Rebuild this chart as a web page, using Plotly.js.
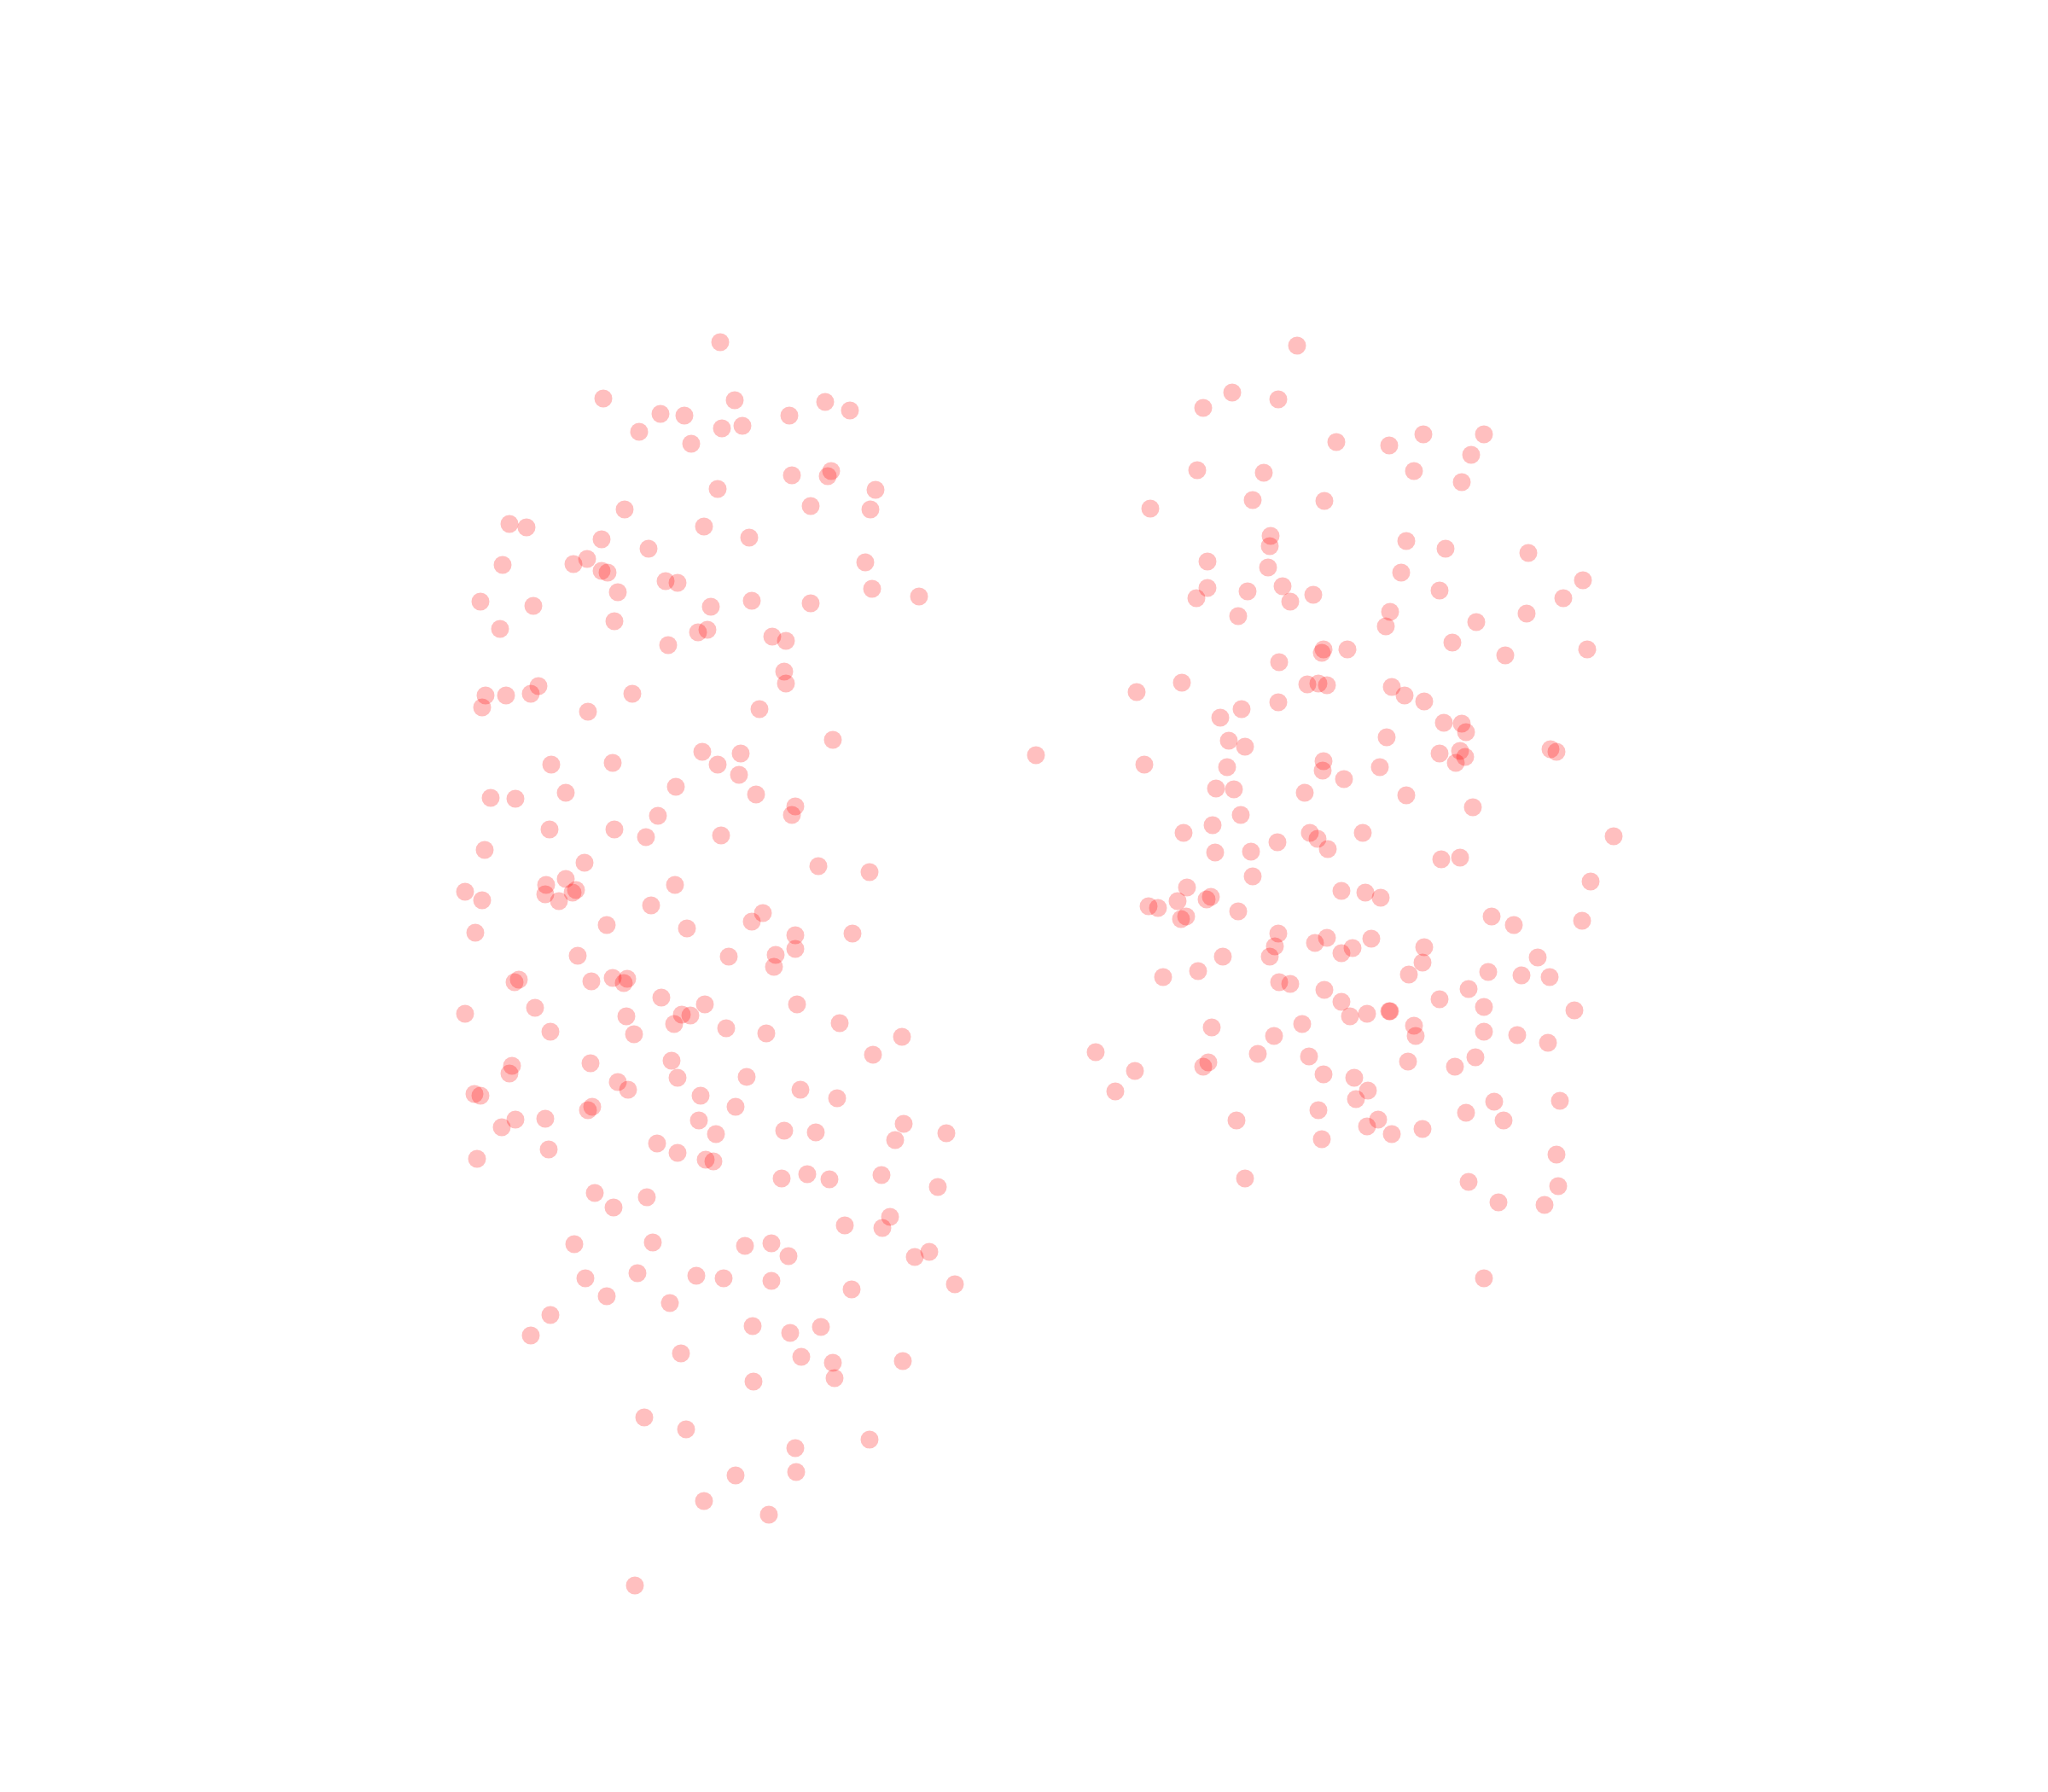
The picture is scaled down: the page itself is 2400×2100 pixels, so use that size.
<!DOCTYPE html>
<html>
<head>
<meta charset="utf-8">
<script src="https://cdn.plot.ly/plotly-3.0.1.min.js"></script>
<style>html,body{margin:0;padding:0;background:#fff;}#chart{width:2400px;height:2100px;}</style>
</head>
<body>
<div id="chart"></div>
<script>
// Group A (left cluster): x and y values
const groupA_x = [844,707,861,774,802,925,967,996,749,846,870,810,928,974,970,841,1026,950,1020,732,597,617,825,705,878,760,589,672,688,705,712,1014,780,794,724,1022,1077,563,625,833,881,950,586,720,818,829,905,921,783,919,921,569,593,622,631,565,741,689,890,976,
823,868,841,866,646,718,575,604,663,792,886,932,928,771,644,720,757,845,568,685,959,1019,640,663,675,671,639,655,791,545,565,763,711,805,894,881,932,932,999,557,677,854,909,907,603,608,693,718,735,731,775,545,627,934,826,799,809,790,734,645,743,851,898,984,1057,1023,787,794,875,692,600,597,724,736,821,938,981,556,563,694,689,862,604,588,639,819,839,919,956,1059,1049,1109,559,643,770,794,827,836,
916,946,972,1033,1099,697,719,758,990,1043,1034,673,765,873,904,924,1072,1089,686,747,816,848,904,998,1119,711,785,645,622,882,926,962,798,939,976,978,1058,883,755,804,932,1019,862,933,825,901,744];
const groupA_y = [401,467,469,485,487,487,471,481,506,502,499,520,557,552,558,573,574,593,597,597,614,618,617,632,630,643,662,661,655,669,671,659,681,683,694,690,699,705,710,711,704,707,737,728,741,738,746,751,756,787,801,815,815,813,804,829,813,834,831,867,
881,883,896,908,896,894,935,936,929,922,931,945,955,956,972,972,981,979,996,1011,1015,1022,1037,1030,1043,1046,1048,1056,1037,1045,1055,1061,1084,1088,1070,1080,1096,1112,1094,1093,1120,1121,1119,1133,1151,1148,1150,1146,1147,1152,1169,1188,1181,1177,1177,1189,1190,1200,1191,1209,1212,1205,1211,1199,1215,1236,1243,1263,1262,1246,1249,1258,1268,1277,1284,1277,1287,1282,1284,1297,1301,1297,1312,1321,1311,1313,1329,1325,1327,1317,1336,1328,1358,1347,1340,1351,1359,1361,
1381,1376,1382,1377,1391,1398,1415,1403,1436,1426,1439,1458,1456,1460,1457,1472,1473,1467,1498,1492,1495,1498,1501,1511,1505,1519,1527,1541,1565,1554,1562,1555,1586,1590,1597,1615,1595,1619,1661,1675,1697,1687,1729,1725,1759,1775,1858];

// Group B (right cluster)
const groupB_x = [1520,1444,1498,1410,1566,1628,1668,1739,1724,1403,1481,1657,1713,1348,1468,1552,1489,1488,1648,1694,1791,1415,1486,1642,1415,1402,1462,1503,1512,1539,1687,1855,1832,1451,1629,1624,1730,1789,1702,1764,1860,1551,1549,1579,1499,1332,1385,1532,1545,1555,1498,1631,1646,1669,1455,1430,1692,1713,1718,1625,1440,1459,
1687,1711,1717,1706,1817,1824,1214,1341,1438,1551,1550,1575,1617,1425,1446,1529,1648,1726,1454,1421,1387,1535,1544,1556,1497,1597,1891,1424,1466,1689,1711,1468,1864,1391,1419,1414,1380,1346,1357,1390,1384,1451,1572,1600,1618,1748,1774,1854,1498,1494,1488,1541,1555,1572,1585,1607,1669,1667,1651,1433,1404,1363,1499,1512,1552,1744,1783,1816,1802,1721,1687,1739,1845,1572,1582,1602,1628,1629,1657,1659,1526,1493,1420,1739,1778,1814,1284,1474,1534,1416,1410,1650,1705,1729,1330,1307,1551,1587,1603,1589,1751,1828,1545,1718,1762,1449,1615,1602,1631,1667,1549,1824,
1459,1721,1826,1756,1810,1739];
const groupB_y = [405,460,468,478,518,522,509,509,533,551,554,552,565,596,586,587,628,640,634,643,648,658,665,671,689,701,693,687,705,697,692,680,701,722,717,734,729,719,753,768,761,761,765,761,776,811,800,802,801,803,823,805,815,822,831,841,847,848,858,864,868,875,
883,880,887,894,878,881,885,896,899,892,903,913,899,924,925,929,932,946,955,967,976,976,983,995,987,976,980,999,998,1007,1005,1027,1033,1040,1051,1054,1056,1062,1064,1074,1077,1068,1044,1046,1052,1074,1084,1079,1094,1109,1121,1105,1099,1117,1111,1100,1110,1128,1142,1121,1138,1145,1151,1153,1160,1139,1143,1145,1122,1159,1171,1180,1184,1174,1191,1188,1185,1185,1202,1214,1200,1214,1204,1209,1213,1222,1233,1235,1238,1245,1250,1244,1250,1239,1255,1279,1259,1263,1278,1288,1291,1290,1301,1304,1313,1313,1312,1320,1329,1323,1335,1353,
1381,1385,1390,1409,1412,1498];

const markerStyle = {size: 21, color: 'rgba(255,0,0,0.25)', line: {width: 0}};

const traces = [
  {type: 'scatter', mode: 'markers', x: groupA_x, y: groupA_y, marker: markerStyle, name: 'A', hoverinfo: 'skip'},
  {type: 'scatter', mode: 'markers', x: groupB_x, y: groupB_y, marker: markerStyle, name: 'B', hoverinfo: 'skip'}
];

const layout = {
  width: 2400, height: 2100,
  margin: {l: 0, r: 0, t: 0, b: 0, pad: 0},
  paper_bgcolor: '#ffffff', plot_bgcolor: '#ffffff',
  showlegend: false,
  xaxis: {range: [0, 2400], visible: false, fixedrange: true},
  yaxis: {range: [2100, 0], visible: false, fixedrange: true}
};

Plotly.newPlot('chart', traces, layout, {displayModeBar: false, staticPlot: true});
</script>
</body>
</html>
